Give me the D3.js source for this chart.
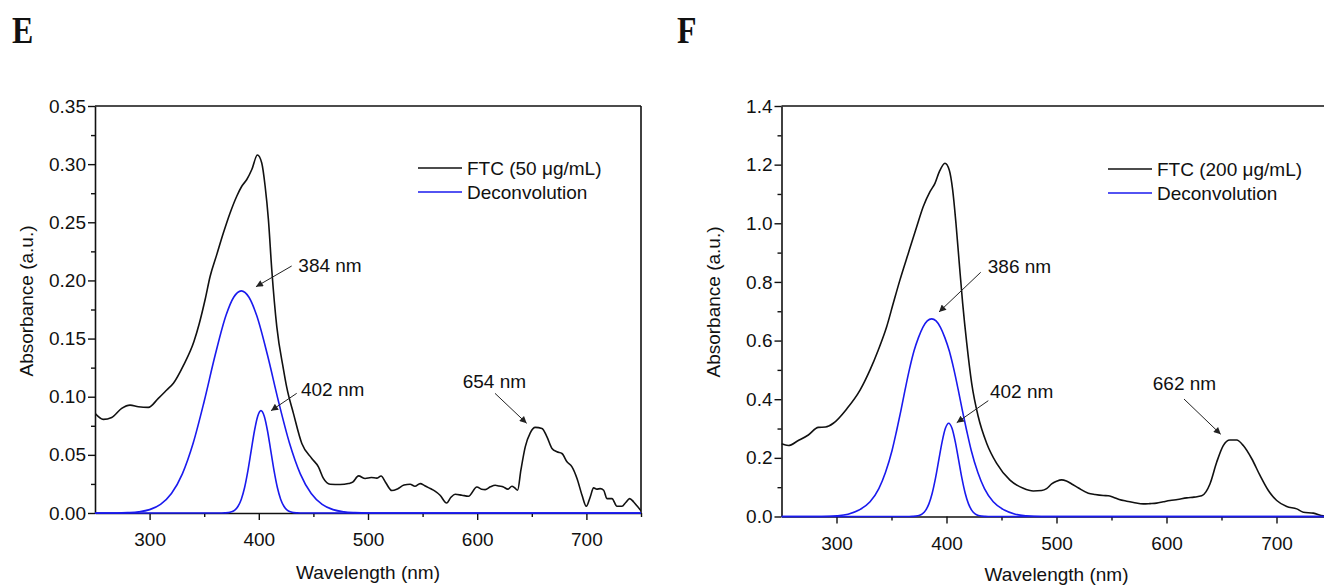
<!DOCTYPE html>
<html><head><meta charset="utf-8">
<script src="https://cdn.jsdelivr.net/npm/d3@7"></script>
<style>
body{margin:0;background:#fff;overflow:hidden}
text{font-family:"Liberation Sans",Arial,sans-serif;fill:#111}
</style>
</head><body>
<svg id="c" width="1324" height="585"></svg>
<script>
// ---------- DATA ----------
// Panel E : FTC 50 µg/mL
const ftc50Nm  = [250,257.6,265.3,274.4,282.1,289.7,298.8,308,315.7,321.8,331,340.6,345.5,350.8,355.4,361.5,367.6,373.7,379.8,384.4,389,393.6,398.7,402.7,405.8,408.8,411.9,416.5,422.5,425.6,431.7,439.4,448.5,454.6,459.2,465.3,474.5,482.1,486,491.3,497.4,503,508,512,516,521.8,527,533,538.6,543,547.8,552,557,561,566,572,576,579.8,586,592,599.7,604,607.3,612,616.5,620,624,628,631.8,634.5,637,640,644,648.6,653.2,659.3,663.9,668.5,673,677.6,682.2,686.8,691.4,696,699.9,703.5,706.6,709.5,712.7,715.8,718.8,723.4,728,732.6,736,739.6,743.3,746.5,750];
const ftc50Abs = [0.0857,0.0805,0.0822,0.090,0.0928,0.0914,0.0908,0.0986,0.1058,0.1116,0.127,0.1475,0.163,0.1834,0.2034,0.2222,0.2409,0.258,0.2724,0.281,0.2868,0.2954,0.3078,0.301,0.281,0.2523,0.209,0.160,0.124,0.108,0.0857,0.0598,0.0469,0.0397,0.0297,0.0247,0.0245,0.0253,0.0265,0.0319,0.0297,0.0305,0.030,0.0318,0.0265,0.0193,0.0207,0.0240,0.0247,0.023,0.0253,0.0235,0.021,0.019,0.0153,0.0086,0.0135,0.0161,0.0153,0.0144,0.0224,0.0205,0.0201,0.0225,0.0239,0.0232,0.0224,0.0205,0.023,0.0215,0.0196,0.0368,0.0569,0.069,0.0736,0.0727,0.0655,0.0555,0.0526,0.0512,0.044,0.0397,0.0297,0.0153,0.0058,0.0138,0.0216,0.0205,0.021,0.0196,0.0124,0.0124,0.0058,0.0058,0.009,0.0124,0.0095,0.0060,0.0020];
const dec50aNm  = [250,270,280,290,300,310,320,330,340,350,360,370,377,384,391,398,408,418,428,438,448,458,468,478,488,500,750];
const dec50aAbs = [0,0,0.0003,0.0010,0.0029,0.0074,0.0167,0.0337,0.0604,0.0961,0.1356,0.1700,0.1855,0.191,0.1855,0.1700,0.1356,0.0961,0.0604,0.0337,0.0167,0.0074,0.0029,0.0010,0.0003,0,0];
const dec50bNm  = [250,366,369,372,375,378,381,384,387,390,393,396,399,402,405,408,411,414,417,420,423,426,429,432,435,438,750];
const dec50bAbs = [0,0,0.0001,0.0003,0.0010,0.0025,0.0058,0.0119,0.0219,0.0362,0.0534,0.0705,0.0832,0.0880,0.0832,0.0705,0.0534,0.0362,0.0219,0.0119,0.0058,0.0025,0.0010,0.0003,0.0001,0,0];

// Panel F : FTC 200 µg/mL
const ftc200Nm  = [250,256.2,265.3,274.4,283.5,290,297.1,309.3,321.4,330.5,338,345.6,351.6,357.7,365.3,372.9,378.9,385,389.5,393.5,398.6,402.5,405.6,408.6,411.6,414.7,418.4,422.9,428.9,436.5,445.6,457.7,469.8,478.9,486.5,491,495.6,500,504.7,509,513.8,520,528.9,535,542.5,547,551.6,557,563.8,570,578.9,585,591,597,603.2,610,618.4,625,632,636,639.5,645.6,651.6,657.7,663.8,669.8,677.5,685,692.6,700.2,709.3,718.4,724.4,733.5,742.5,750];
const ftc200Abs = [0.248,0.242,0.259,0.278,0.304,0.305,0.318,0.367,0.431,0.50,0.568,0.647,0.727,0.807,0.898,0.988,1.057,1.108,1.136,1.176,1.205,1.182,1.114,1.0,0.864,0.727,0.591,0.454,0.340,0.25,0.181,0.124,0.096,0.087,0.0886,0.095,0.111,0.12,0.125,0.121,0.111,0.097,0.0795,0.075,0.0716,0.071,0.0659,0.058,0.0523,0.048,0.043,0.044,0.0455,0.05,0.0545,0.058,0.0636,0.066,0.0704,0.085,0.111,0.185,0.242,0.261,0.261,0.242,0.197,0.14,0.0886,0.0545,0.034,0.026,0.0147,0.0114,0.002,0];
const dec200aNm  = [250,286.5,300.5,310.5,320.5,330.5,338.5,344.5,350.5,354.5,358.5,362.5,366.5,370.5,374.5,378.5,382.5,386.5,390.5,394.5,398.5,402.5,406.5,410.5,414.5,418.5,422.5,428.5,434.5,442.5,452.5,462.5,472.5,486.5,750];
const dec200aAbs = [0,0,0.0025,0.008,0.022,0.05,0.095,0.15,0.225,0.29,0.36,0.435,0.505,0.565,0.61,0.645,0.667,0.674,0.667,0.645,0.61,0.565,0.505,0.435,0.36,0.29,0.225,0.15,0.095,0.05,0.022,0.008,0.0025,0,0];
const dec200bNm  = [250,366,369,372,375,378,381,384,387,390,393,396,399,402,405,408,411,414,417,420,423,426,429,432,435,438,750];
const dec200bAbs = [0,0,0.0004,0.0012,0.0035,0.0091,0.0209,0.0430,0.0793,0.1307,0.1929,0.2546,0.3008,0.318,0.3008,0.2546,0.1929,0.1307,0.0793,0.0430,0.0209,0.0091,0.0035,0.0012,0.0004,0,0];

// ticks
const xTicksMajor = [300,400,500,600,700];
const xTicksMinor = [350,450,550,650,750];
const yTicksE = [0,0.05,0.10,0.15,0.20,0.25,0.30,0.35];
const yMinorE = [0.025,0.075,0.125,0.175,0.225,0.275,0.325];
const yTicksF = [0,0.2,0.4,0.6,0.8,1.0,1.2,1.4];
const yMinorF = [0.1,0.3,0.5,0.7,0.9,1.1,1.3];

// labels / annotations (positions in data units)
const legendE = ["FTC (50 \u03bcg/mL)","Deconvolution"];
const legendF = ["FTC (200 \u03bcg/mL)","Deconvolution"];
const annotE = [
  {t:"384 nm", tx:436.2, ty:0.2072, x1:430.1, y1:0.2124, x2:397.4, y2:0.1946},
  {t:"402 nm", tx:438.6, ty:0.1006, x1:434.7, y1:0.1029, x2:411.2, y2:0.088},
  {t:"654 nm", tx:586.7, ty:0.1071, x1:616.3, y1:0.1029, x2:645.3, y2:0.0771}
];
const annotF = [
  {t:"386 nm", tx:437.5, ty:0.8305, x1:431.1, y1:0.8329, x2:393.2, y2:0.6975},
  {t:"402 nm", tx:439.5, ty:0.4025, x1:438.0, y1:0.395,  x2:409.3, y2:0.32},
  {t:"662 nm", tx:587.5, ty:0.4314, x1:615.9, y1:0.4007, x2:649.3, y2:0.2804}
];

// ---------- DRAW ----------
const svg = d3.select("#c");
const defs = svg.append("defs");
defs.append("marker").attr("id","ah").attr("viewBox","0 0 10 10")
  .attr("refX",10).attr("refY",5).attr("markerWidth",10).attr("markerHeight",7)
  .attr("markerUnits","userSpaceOnUse").attr("orient","auto")
  .append("path").attr("d","M0,0 L10,5 L0,10 Z").attr("fill","#222");

const FS = 19;
const panels = [
  {letter:"E", lx:12, xr:[95,641], yr:[513,106], yd:[0,0.35], yt:yTicksE, ym:yMinorE, fmt:d3.format(".2f"),
   black:[ftc50Nm,ftc50Abs], blues:[[dec50aNm,dec50aAbs],[dec50bNm,dec50bAbs]], legend:legendE, legX:418, legY:168,
   annot:annotE, ylabX:26, ylabY:301, xlabY:578.5, clip:"cE"},
  {letter:"F", lx:677, xr:[781.5,1331.5], yr:[516.5,106], yd:[0,1.4], yt:yTicksF, ym:yMinorF, fmt:d3.format(".1f"),
   black:[ftc200Nm,ftc200Abs], blues:[[dec200aNm,dec200aAbs],[dec200bNm,dec200bAbs]], legend:legendF, legX:1108, legY:169,
   annot:annotF, ylabX:713.5, ylabY:302, xlabY:581, clip:"cF"}
];

panels.forEach(p=>{
  const x = d3.scaleLinear().domain([250,750]).range(p.xr);
  const y = d3.scaleLinear().domain(p.yd).range(p.yr);
  const g = svg.append("g");

  // panel letter
  g.append("text").attr("transform",`translate(${p.lx},43) scale(0.84,1)`)
    .style("font-family","'Liberation Serif','Times New Roman',serif")
    .style("font-weight","bold").style("font-size","38px").text(p.letter);

  // frame (top & right)
  g.append("line").attr("x1",p.xr[0]).attr("x2",p.xr[1]).attr("y1",p.yr[1]).attr("y2",p.yr[1])
    .attr("stroke","#111").attr("stroke-width",1.6);
  g.append("line").attr("x1",p.xr[1]).attr("x2",p.xr[1]).attr("y1",p.yr[0]).attr("y2",p.yr[1])
    .attr("stroke","#111").attr("stroke-width",1.6);

  // axes
  g.append("g").attr("transform",`translate(0,${p.yr[0]})`)
    .call(d3.axisBottom(x).tickValues(xTicksMajor).tickSize(7).tickSizeOuter(0).tickPadding(13).tickFormat(d3.format("d")));
  g.append("g").attr("transform",`translate(0,${p.yr[0]})`)
    .call(d3.axisBottom(x).tickValues(xTicksMinor).tickSize(4).tickSizeOuter(0).tickFormat(""))
    .select(".domain").remove();
  g.append("g").attr("transform",`translate(${p.xr[0]},0)`)
    .call(d3.axisLeft(y).tickValues(p.yt).tickSize(7).tickSizeOuter(0).tickPadding(2).tickFormat(p.fmt));
  g.append("g").attr("transform",`translate(${p.xr[0]},0)`)
    .call(d3.axisLeft(y).tickValues(p.ym).tickSize(4).tickSizeOuter(0).tickFormat(""))
    .select(".domain").remove();
  g.selectAll(".domain").attr("stroke","#111").attr("stroke-width",1.6);
  g.selectAll(".tick line").attr("stroke","#111").attr("stroke-width",1.4);
  g.selectAll(".tick text").style("font-size",FS+"px").style("font-family","'Liberation Sans',Arial,sans-serif").attr("fill","#111");

  // axis titles
  g.append("text").attr("x",x(500)).attr("y",p.xlabY).attr("text-anchor","middle")
    .style("font-size",FS+"px").text("Wavelength (nm)");
  g.append("text").attr("transform",`translate(${p.ylabX},${p.ylabY}) rotate(-90)`)
    .attr("text-anchor","middle").attr("dominant-baseline","central")
    .style("font-size",FS+"px").text("Absorbance (a.u.)");

  // clip
  defs.append("clipPath").attr("id",p.clip).append("rect")
    .attr("x",p.xr[0]).attr("y",p.yr[1]-2).attr("width",p.xr[1]-p.xr[0]).attr("height",p.yr[0]-p.yr[1]+4);

  const line = (xs,ys)=> d3.line().curve(d3.curveMonotoneX).x((d,i)=>x(xs[i])).y((d,i)=>y(ys[i]))(xs);
  const plot = g.append("g").attr("clip-path",`url(#${p.clip})`);
  plot.append("path").attr("d",line(p.black[0],p.black[1])).attr("fill","none")
    .attr("stroke","#111").attr("stroke-width",1.6).attr("stroke-linejoin","round");
  p.blues.forEach(b=>{
    plot.append("path").attr("d",line(b[0],b[1])).attr("fill","none")
      .attr("stroke","#1a1aee").attr("stroke-width",1.6).attr("stroke-linejoin","round");
  });

  // legend
  const lg = g.append("g");
  p.legend.forEach((t,i)=>{
    const yy = p.legY + i*24;
    lg.append("line").attr("x1",p.legX).attr("x2",p.legX+44).attr("y1",yy).attr("y2",yy)
      .attr("stroke", i===0?"#111":"#1a1aee").attr("stroke-width",1.6);
    lg.append("text").attr("x",p.legX+49).attr("y",yy).attr("dominant-baseline","central")
      .style("font-size",FS+"px").text(t);
  });

  // annotations
  p.annot.forEach(a=>{
    g.append("text").attr("x",x(a.tx)).attr("y",y(a.ty)).style("font-size",FS+"px").text(a.t);
    g.append("line").attr("x1",x(a.x1)).attr("y1",y(a.y1)).attr("x2",x(a.x2)).attr("y2",y(a.y2))
      .attr("stroke","#222").attr("stroke-width",1).attr("marker-end","url(#ah)");
  });
});
</script>
</body></html>
